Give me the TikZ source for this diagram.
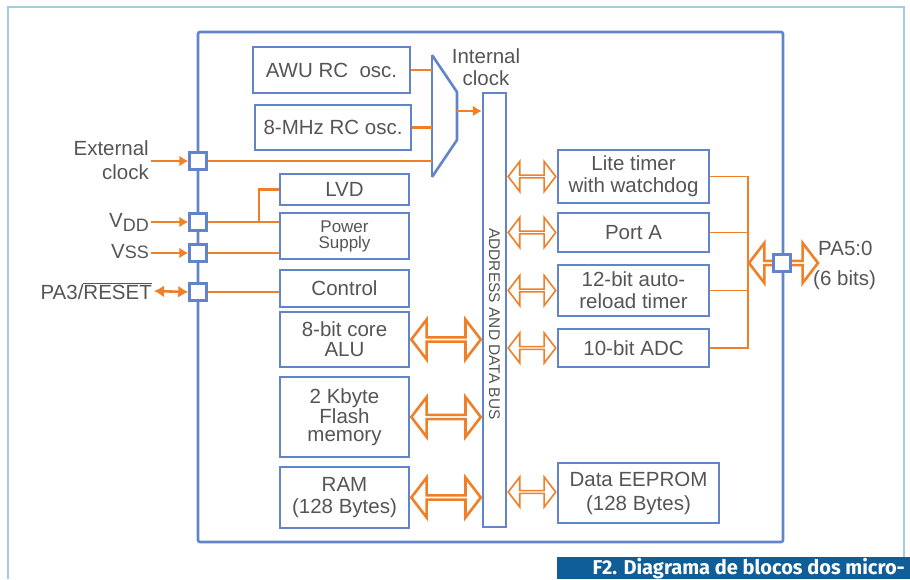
\documentclass[tikz,border=0pt]{standalone}
\usepackage{fontspec}
\setmainfont{Liberation Sans}
\newfontfamily\capfont{Fira Sans}
\usepackage{tikz}
\usetikzlibrary{arrows.meta,positioning,shapes,calc}
\definecolor{chipblue}{RGB}{98,132,202}
\definecolor{sigorange}{RGB}{240,128,40}
\definecolor{framecyan}{RGB}{160,205,225}
\definecolor{capblue}{RGB}{16,94,152}
\definecolor{txtgray}{RGB}{85,85,85}
\newcommand{\busarrow}[4]{%
  \path let \p1=(#3), \p2=(#4) in
    node[#1, minimum height={\x2-\x1-2pt}] (#2) at ($(\p1)!.5!(\p2)$) {};}

\begin{document}
\begin{tikzpicture}[x=1pt, y=-1pt,
    blk/.style={draw=chipblue, line width=2.6pt, fill=white, text=txtgray, align=center,
      inner sep=0pt, font=\fontsize{20.5}{22}\selectfont},
    pin/.style={draw=chipblue, line width=2.4pt, fill=white, minimum size=17pt, inner sep=0pt},
    lbl/.style={text=txtgray, align=center, inner sep=2pt, font=\fontsize{20.5}{22}\selectfont},
    sig/.style={draw=sigorange, line width=1.6pt},
    inarr/.style={sigorange, line width=2.6pt, -{Latex[length=9pt,width=11pt]}},
    bigarr/.style={double arrow, draw=sigorange, fill=white, line width=2.6pt, inner sep=0pt,
      minimum width=40pt, double arrow head extend=11pt, double arrow tip angle=105},
    smallarr/.style={double arrow, draw=sigorange, fill=white, line width=1.6pt, inner sep=0pt,
      minimum width=30pt, double arrow head extend=8pt, double arrow tip angle=105}
  ]
  \useasboundingbox (0,0) rectangle (910,579);
  \draw[framecyan, line width=1.2pt] (8,579) -- (8,7) -- (904,7) -- (904,557);
  \fill[capblue] (557,557) rectangle (910,579);
  \node[anchor=base east, text=white, inner sep=0pt, font=\capfont\bfseries\fontsize{20}{20}\selectfont]
    (caption) at (905,574) {F2. Diagrama de blocos dos micro-};

  \node[draw=chipblue, line width=2.6pt, minimum width=585pt, minimum height=510pt,
    inner sep=0pt, rounded corners=2pt] (chip) at (490.5,287) {};

  % clock sources and mux
  \node[blk, minimum width=157pt, minimum height=46pt] (awu) at (331.5,70) {AWU RC\ \ osc.};
  \node[blk, minimum width=156pt, minimum height=45pt] (mhz) at (333,127.5) {8-MHz RC osc.};
  \coordinate (muxtop) at (432,55);
  \coordinate (muxbot) at (432,177);
  \coordinate (muxout) at (457,111);
  \draw[chipblue, line width=2.6pt] (muxtop) -- (muxbot);
  \draw[chipblue, line width=2.6pt, line join=round] (muxtop) -- (457,92) -- (457,140) -- (muxbot);
  \node[lbl] (intclk) at (486,67) {Internal\\clock};

  % left column
  \node[blk, minimum width=129pt, minimum height=31pt] (lvd) at (344.5,189.5) {LVD};
  \node[blk, minimum width=129pt, minimum height=46pt, font=\fontsize{17}{16}\selectfont]
    (psu) at (344.5,236) {Power\\Supply};
  \node[blk, minimum width=129pt, minimum height=37pt] (ctrl) at (344.5,288.5) {Control};
  \node[blk, minimum width=129pt, minimum height=55pt, font=\fontsize{20.5}{20}\selectfont]
    (alu) at (344.5,339.5) {8-bit core\\ALU};
  \node[blk, minimum width=129pt, minimum height=80pt, font=\fontsize{20.5}{18.5}\selectfont]
    (flash) at (344.5,417) {2 Kbyte\\Flash\\memory};
  \node[blk, minimum width=129pt, minimum height=61pt] (ram) at (344.5,497.5) {RAM\\(128 Bytes)};

  % bus
  \node[blk, line width=2.4pt, minimum width=23pt, minimum height=434pt] (bus) at (494.5,310) {};
  \node[rotate=-90, text=txtgray, inner sep=0pt, font=\fontsize{15.5}{15.5}\selectfont]
    (busname) at (494.5,324) {ADDRESS AND DATA BUS};

  % peripherals
  \node[blk, minimum width=151pt, minimum height=53pt] (lite) at (633.5,176.5) {Lite timer\\with watchdog};
  \node[blk, minimum width=151pt, minimum height=39pt] (porta) at (633.5,232.5) {Port A};
  \node[blk, minimum width=151pt, minimum height=51pt] (reload) at (633.5,290.5) {12-bit auto-\\reload timer};
  \node[blk, minimum width=151pt, minimum height=38pt] (adc) at (633.5,348) {10-bit ADC};
  \node[blk, minimum width=161pt, minimum height=60pt, font=\fontsize{20.5}{24}\selectfont]
    (eeprom) at (638.5,493) {Data EEPROM\\(128 Bytes)};

  % pins
  \node[pin] (pclk) at (198,161) {};
  \node[pin] (pvdd) at (198,222) {};
  \node[pin] (pvss) at (198,253) {};
  \node[pin] (prst) at (198,292) {};
  \coordinate (tap) at (259,222);
  \coordinate (rjoin) at (748,176);
  \coordinate (paend) at (819,263);

  % signals
  \draw[sig, line width=2.4pt] (awu.east) -- (awu.east -| muxtop);
  \draw[sig, line width=2.4pt] (mhz.east) -- (mhz.east -| muxtop);
  \draw[sig] (pclk.east) -- (pclk.east -| muxtop);
  \draw[inarr] (muxout) -- (muxout -| bus.west);
  \draw[sig] (pvdd.east) -- (pvdd.east -| psu.west);
  \draw[sig, line width=2.6pt] (tap) |- (lvd.west);
  \draw[sig] (pvss.east) -- (pvss.east -| psu.west);
  \draw[sig] (prst.east) -- (prst.east -| ctrl.west);
  \draw[sig] (lite.east) -- (lite.east -| rjoin) -- (adc.east -| rjoin) -- (adc.east);
  \draw[sig] (porta.east) -- (porta.east -| rjoin);
  \draw[sig] (reload.east) -- (reload.east -| rjoin);

  % data paths
  \busarrow{bigarr}{aluarr}{alu.east}{alu.east -| bus.west}
  \busarrow{bigarr}{flasharr}{flash.east}{flash.east -| bus.west}
  \busarrow{bigarr}{ramarr}{ram.east}{ram.east -| bus.west}
  \busarrow{smallarr}{litearr}{bus.east |- lite.west}{lite.west}
  \busarrow{smallarr}{portarr}{bus.east |- porta.west}{porta.west}
  \busarrow{smallarr}{reloadarr}{bus.east |- reload.west}{reload.west}
  \busarrow{smallarr}{adcarr}{bus.east |- adc.west}{adc.west}
  \busarrow{smallarr}{eeparr}{bus.east |- 0,492}{eeprom.west |- 0,492}
  \busarrow{bigarr}{paarr}{rjoin |- paend}{paend}
  \node[pin] (ppa) at (782,263) {};

  % external labels
  \node[lbl, align=right, anchor=east, font=\fontsize{20.5}{24}\selectfont] (extclk) at (151,160) {External\\clock};
  \draw[inarr] (extclk.east |- pclk) -- (pclk.west);
  \node[lbl, anchor=east] (vdd) at (151,222) {V\raisebox{-4pt}{\fontsize{18}{18}\selectfont DD}};
  \draw[inarr] (vdd.east |- pvdd) -- (pvdd.west);
  \node[lbl, anchor=east] (vss) at (151,252) {V{\fontsize{18}{18}\selectfont SS}};
  \draw[inarr] (vss.east |- pvss) -- (pvss.west);
  \node[lbl, anchor=east] (rst) at (154,291) {PA3/$\overline{\mbox{RESET}}$};
  \draw[sigorange, line width=2.6pt, {Latex[length=10pt,width=12pt]}-{Latex[length=10pt,width=12pt]}]
    (rst.east) -- (prst.west);
  \begin{scope}
    \clip (800,225) rectangle (874,300);
    \node[lbl, anchor=west, inner sep=0pt] (pa) at (818,248) {PA5:0};
    \node[lbl, anchor=west, inner sep=0pt] (pabits) at (813,280) {(6 bits)};
  \end{scope}
\end{tikzpicture}
\end{document}
